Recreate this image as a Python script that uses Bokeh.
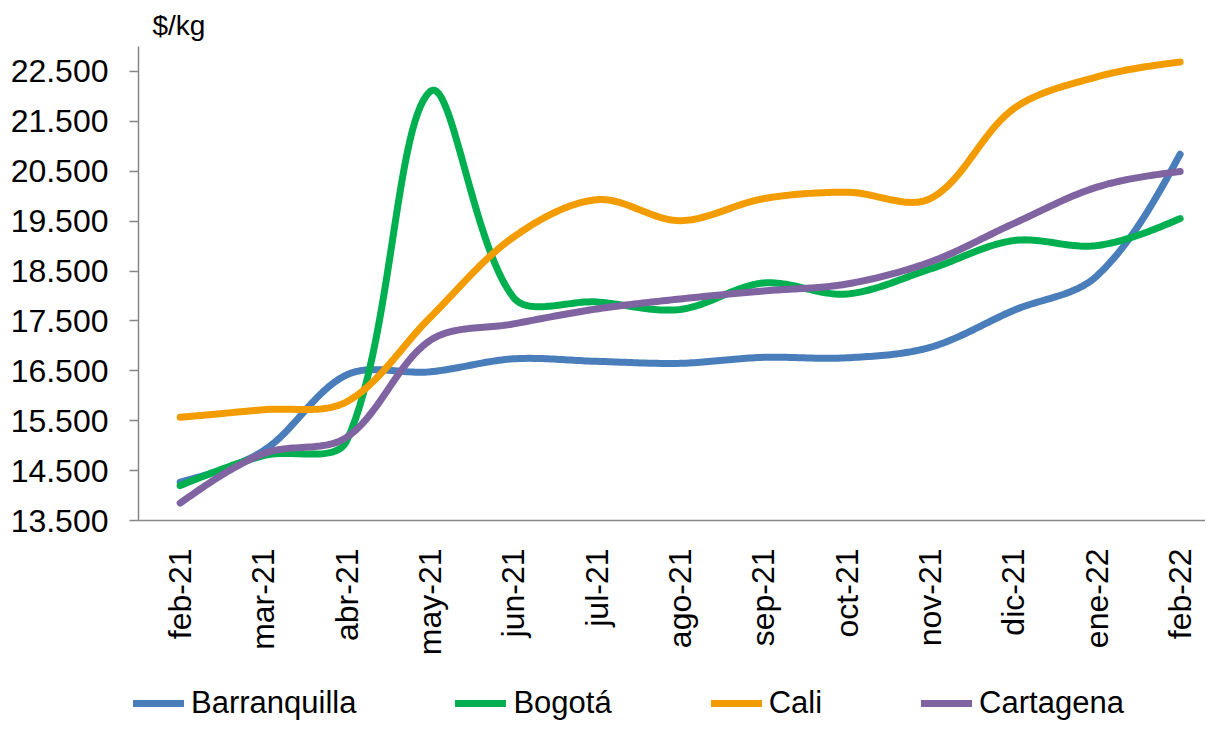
import numpy as np
from bokeh.plotting import figure
from bokeh.models import Range1d, FixedTicker, Legend, LegendItem
from bokeh.embed import file_html
from bokeh.resources import INLINE

# ---------------- data ----------------
months = ["feb-21", "mar-21", "abr-21", "may-21", "jun-21", "jul-21", "ago-21",
          "sep-21", "oct-21", "nov-21", "dic-21", "ene-22", "feb-22"]
barranquilla = [14270, 14900, 16420, 16480, 16740, 16690, 16650, 16770, 16760, 16970, 17710, 18400, 20840]
bogota = [14200, 14800, 15100, 22100, 17970, 17880, 17730, 18260, 18040, 18540, 19110, 19010, 19550]
cali = [15570, 15720, 15880, 17570, 19180, 19930, 19510, 19950, 20080, 19950, 21750, 22390, 22690]
cartagena = [13850, 14840, 15170, 17110, 17440, 17740, 17940, 18100, 18240, 18680, 19450, 20180, 20495]
series_names = ["Barranquilla", "Bogotá", "Cali", "Cartagena"]
y_ticks = [13500, 14500, 15500, 16500, 17500, 18500, 19500, 20500, 21500, 22500]
y_tick_labels = ["13.500", "14.500", "15.500", "16.500", "17.500", "18.500",
                 "19.500", "20.500", "21.500", "22.500"]

colors = ["#4A7EBB", "#00B050", "#F39C00", "#8064A2"]

# ---------------- layout constants ----------------
W = 1205
H_MAIN, H_LEG = 660, 61
BL, BT, BR = 138, 46, 0
BB = H_MAIN - 520
frame_w = W - BL - BR
frame_h = H_MAIN - BT - BB
x0 = -0.5
px_per_cat = 83.33
x1 = x0 + frame_w / px_per_cat
y0, y1 = 13500, 23000
px_per_y = frame_h / (y1 - y0)

FONT = "Liberation Sans"


def smooth(xs, ys, kx, ky, n=30):
    """Excel-like smoothed curve (chord-weighted cubic Bezier) for display."""
    P = np.column_stack([np.asarray(xs, float) * kx, np.asarray(ys, float) * ky])
    N = len(P)
    ca = [None] * N
    cb = [None] * N
    for i in range(1, N - 1):
        d = P[i + 1] - P[i - 1]
        L1 = np.linalg.norm(P[i] - P[i - 1])
        L2 = np.linalg.norm(P[i + 1] - P[i])
        ca[i] = P[i] + d * L2 / (L1 + L2) / 3.0
        cb[i] = P[i] - d * L1 / (L1 + L2) / 3.0
    ca[0] = P[0] + (cb[1] - P[0]) / 2.0
    cb[N - 1] = P[N - 1] + (ca[N - 2] - P[N - 1]) / 2.0
    t = np.linspace(0, 1, n)[:, None]
    out = [P[0:1]]
    for i in range(N - 1):
        a, b, c, d2 = P[i], ca[i], cb[i + 1], P[i + 1]
        seg = ((1 - t) ** 3) * a + 3 * ((1 - t) ** 2) * t * b + 3 * (1 - t) * t ** 2 * c + t ** 3 * d2
        out.append(seg[1:])
    Q = np.vstack(out)
    return Q[:, 0] / kx, Q[:, 1] / ky


p = figure(width=W, height=H_MAIN, output_backend="svg", toolbar_location=None,
           x_range=Range1d(x0, x1), y_range=Range1d(y0, y1),
           min_border_left=BL, min_border_top=BT, min_border_bottom=BB, min_border_right=BR)
p.outline_line_color = None
p.grid.visible = False
p.background_fill_color = "white"

# Y axis
p.yaxis.ticker = FixedTicker(ticks=y_ticks)
p.yaxis.major_label_overrides = {t: l for t, l in zip(y_ticks, y_tick_labels)}
p.yaxis.axis_line_color = "#868686"
p.yaxis.axis_line_width = 1.5
p.yaxis.major_tick_line_color = "#868686"
p.yaxis.major_tick_line_width = 1.5
p.yaxis.major_tick_in = 0
p.yaxis.major_tick_out = 9
p.yaxis.minor_tick_line_color = None
p.yaxis.major_label_text_font = FONT
p.yaxis.major_label_text_font_size = "32px"
p.yaxis.major_label_text_color = "black"
p.yaxis.major_label_standoff = 21

# X axis
xs_idx = list(range(len(months)))
p.xaxis.ticker = FixedTicker(ticks=xs_idx)
p.xaxis.major_label_overrides = {i: m for i, m in zip(xs_idx, months)}
p.xaxis.major_label_orientation = np.pi / 2
p.xaxis.axis_line_color = "#868686"
p.xaxis.axis_line_width = 1.5
p.xaxis.major_tick_line_color = None
p.xaxis.minor_tick_line_color = None
p.xaxis.major_label_text_font = FONT
p.xaxis.major_label_text_font_size = "32px"
p.xaxis.major_label_text_color = "black"
p.xaxis.major_label_standoff = 22

# title "$/kg"
p.title.text = "$/kg"
p.title.text_font = FONT
p.title.text_font_size = "28px"
p.title.text_font_style = "normal"
p.title.text_color = "black"
p.title.align = "left"
p.title.offset = 14
p.title.standoff = 12

for name, vals, col in zip(series_names, [barranquilla, bogota, cali, cartagena], colors):
    sx, sy = smooth(xs_idx, vals, px_per_cat, px_per_y)
    p.line(sx, sy, line_color=col, line_width=7, line_cap="round", line_join="round")

# ---------------- legend strip (separate root, no frame alignment) ----------------
lg = figure(width=W, height=H_LEG, output_backend="svg", toolbar_location=None,
            x_range=Range1d(0, 1), y_range=Range1d(0, 1),
            x_axis_type=None, y_axis_type=None,
            min_border_left=0, min_border_right=0, min_border_top=0, min_border_bottom=0)
lg.grid.visible = False
lg.outline_line_color = None

items = []
for name, col in zip(series_names, colors):
    r = lg.line(x=[np.nan], y=[np.nan], line_color=col, line_width=7, line_cap="round")
    items.append(LegendItem(label=name, renderers=[r]))

legend = Legend(items=items, orientation="horizontal", location=(133, 0))
legend.label_text_font = FONT
legend.label_text_font_size = "31px"
legend.label_text_color = "black"
legend.glyph_width = 51
legend.glyph_height = 20
legend.label_standoff = 7
legend.spacing = 99
legend.padding = 0
legend.margin = 0
legend.border_line_color = None
legend.background_fill_alpha = 0
lg.add_layout(legend, "center")

open("out.html", "w").write(file_html([p, lg], INLINE))
